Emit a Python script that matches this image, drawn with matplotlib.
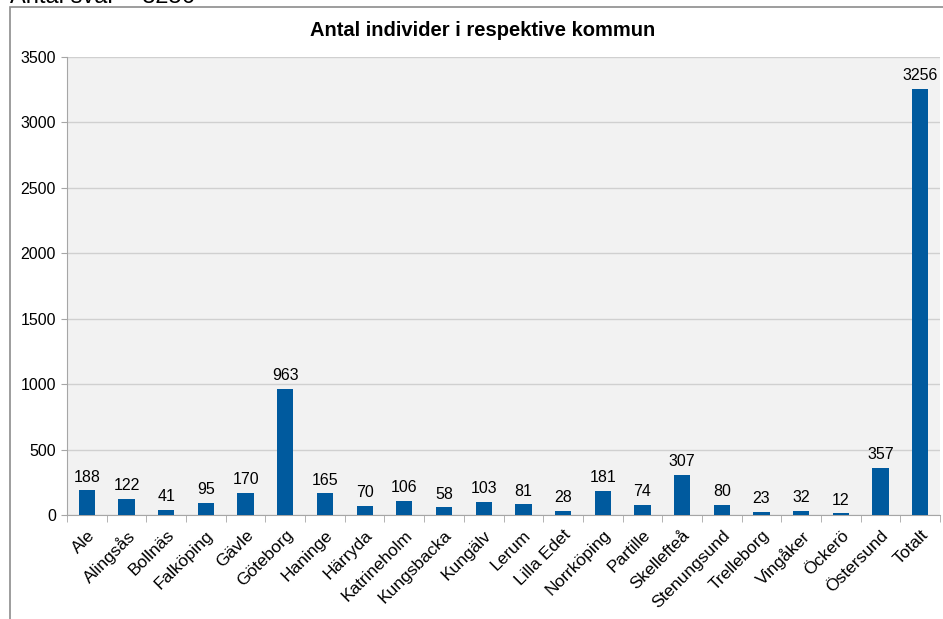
import matplotlib
matplotlib.use('Agg')
import matplotlib.pyplot as plt
import matplotlib.patches as mpatches
import numpy as np

plt.rcParams['font.family'] = ['Liberation Sans', 'DejaVu Sans']

kommuner = ['Ale', 'Alingsås', 'Bollnäs', 'Falköping', 'Gävle', 'Göteborg',
            'Haninge', 'Härryda', 'Katrineholm', 'Kungsbacka', 'Kungälv',
            'Lerum', 'Lilla Edet', 'Norrköping', 'Partille', 'Skellefteå',
            'Stenungsund', 'Trelleborg', 'Vingåker', 'Öckerö', 'Östersund',
            'Totalt']
antal = [188, 122, 41, 95, 170, 963, 165, 70, 106, 58, 103, 81, 28, 181,
         74, 307, 80, 23, 32, 12, 357, 3256]
yticks = [0, 500, 1000, 1500, 2000, 2500, 3000, 3500]

fig = plt.figure(figsize=(9.43, 6.19), dpi=100)
ax = fig.add_axes([0.071, 0.168, 0.926, 0.740])

# outer chart frame (cut off at right and bottom)
frame = mpatches.Rectangle((10 / 943, -0.1), 1.1, 1 - 7 / 619 + 0.1,
                           transform=fig.transFigure, fill=False,
                           edgecolor='#8c8c8c', linewidth=1.2, clip_on=False)
fig.patches.append(frame)

# header above the chart, only its lower edge is visible
fig.text(0.011, 1 - 3 / 619, 'Antal svar = 3256', fontsize=17,
         ha='left', va='baseline')

fig.text(0.512, 0.951, 'Antal individer i respektive kommun',
         fontsize=14.5, fontweight='bold', ha='center', va='center')

x = np.arange(len(kommuner))
ax.set_facecolor('#f2f2f2')
ax.bar(x, antal, width=0.41, color='#005a9e', zorder=3)
for xi, v in zip(x, antal):
    ax.text(xi, v + 45, str(v), ha='center', va='bottom', fontsize=11.5)

ax.set_xlim(-0.5, len(kommuner) - 0.5)
ax.set_ylim(0, 3500)
ax.set_yticks(yticks)
ax.yaxis.grid(True, color='#d0d0d0', linewidth=1, zorder=0)
ax.tick_params(axis='y', labelsize=11.5, length=4, color='#a6a6a6', pad=4)

ax.set_xticks(x)
ax.set_xticklabels(kommuner, rotation=45, ha='right', rotation_mode='anchor',
                   fontsize=12.5)
ax.tick_params(axis='x', length=0, pad=9)
ax.set_xticks(np.arange(-0.5, len(kommuner)), minor=True)
ax.tick_params(axis='x', which='minor', length=5, color='#a6a6a6')

for side in ['top', 'right']:
    ax.spines[side].set_visible(False)
ax.spines['left'].set_color('#a6a6a6')
ax.spines['bottom'].set_color('#a6a6a6')

plt.savefig('out.png', dpi=100)
